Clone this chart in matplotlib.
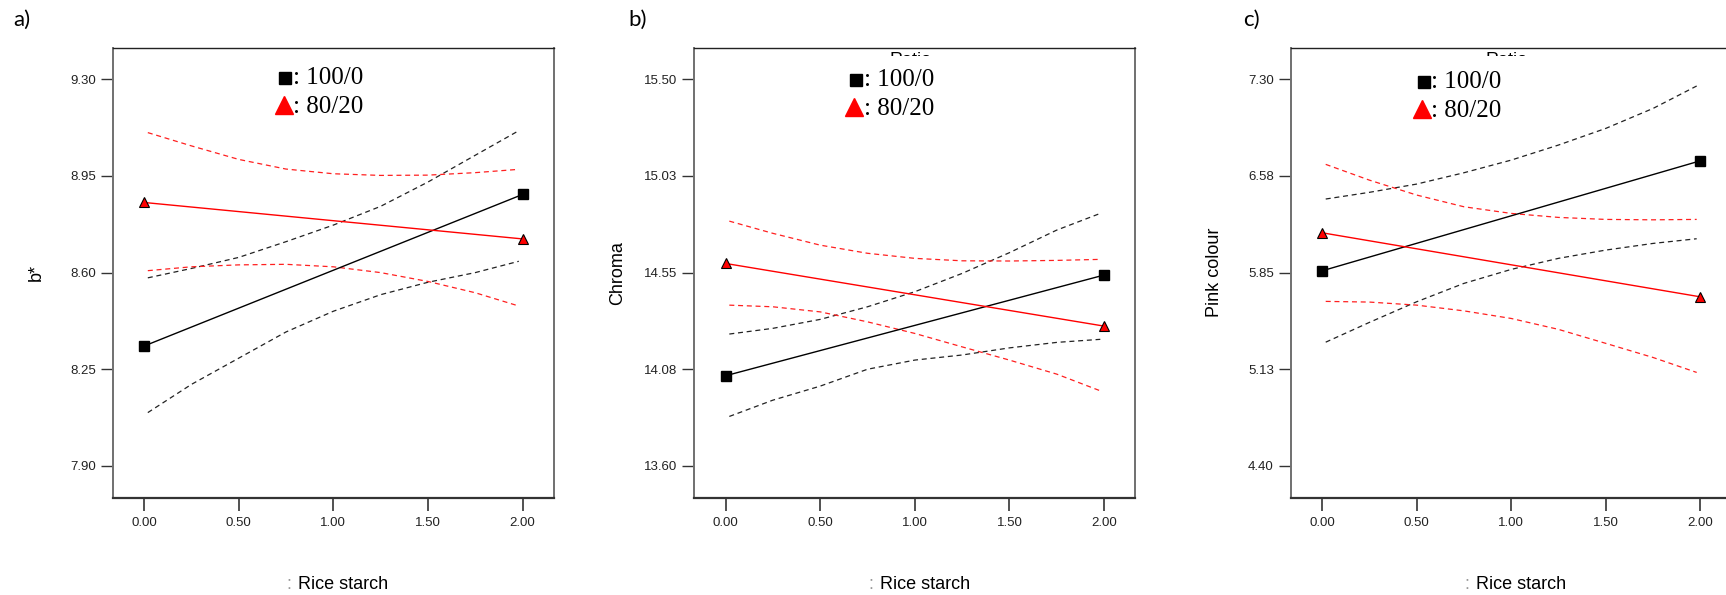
import matplotlib
matplotlib.use("Agg")
import matplotlib.pyplot as plt
from matplotlib.patches import Rectangle

# data
x_means = [0.0, 2.0]
x_band = [0.02, 0.25, 0.5, 0.75, 1.0, 1.25, 1.5, 1.75, 1.98]
ratios = ["100/0", "80/20"]
x_ticks = [0.0, 0.5, 1.0, 1.5, 2.0]
x_ticklabels = ["0.00", "0.50", "1.00", "1.50", "2.00"]
x_title = "Rice starch"

# a) b*
bstar_100 = [8.334, 8.883]
bstar_80 = [8.854, 8.722]
bstar_100_hi = [8.581, 8.615, 8.655, 8.712, 8.772, 8.840, 8.928, 9.025, 9.114]
bstar_100_lo = [8.093, 8.195, 8.290, 8.385, 8.460, 8.520, 8.565, 8.600, 8.641]
bstar_80_hi = [9.107, 9.059, 9.010, 8.975, 8.958, 8.952, 8.953, 8.962, 8.974]
bstar_80_lo = [8.607, 8.621, 8.628, 8.630, 8.621, 8.600, 8.568, 8.527, 8.479]
bstar_ticks = [7.90, 8.25, 8.60, 8.95, 9.30]
bstar_ticklabels = ["7.90", "8.25", "8.60", "8.95", "9.30"]

# b) Chroma
chroma_100 = [14.043, 14.538]
chroma_80 = [14.595, 14.287]
chroma_100_hi = [14.248, 14.276, 14.320, 14.382, 14.456, 14.546, 14.648, 14.759, 14.841]
chroma_100_lo = [13.843, 13.923, 13.992, 14.075, 14.120, 14.145, 14.180, 14.207, 14.222]
chroma_80_hi = [14.803, 14.743, 14.685, 14.645, 14.620, 14.608, 14.607, 14.610, 14.615]
chroma_80_lo = [14.390, 14.382, 14.357, 14.308, 14.251, 14.185, 14.120, 14.051, 13.969]
chroma_ticks = [13.60, 14.075, 14.55, 15.025, 15.50]
chroma_ticklabels = ["13.60", "14.08", "14.55", "15.03", "15.50"]

# c) Pink colour
pink_100 = [5.863, 6.689]
pink_80 = [6.149, 5.668]
pink_100_hi = [6.402, 6.452, 6.514, 6.599, 6.694, 6.807, 6.932, 7.082, 7.250]
pink_100_lo = [5.328, 5.476, 5.631, 5.769, 5.874, 5.957, 6.019, 6.069, 6.104]
pink_80_hi = [6.662, 6.544, 6.432, 6.344, 6.294, 6.264, 6.249, 6.246, 6.249]
pink_80_lo = [5.634, 5.629, 5.606, 5.563, 5.506, 5.424, 5.319, 5.213, 5.101]
pink_ticks = [4.40, 5.125, 5.85, 6.575, 7.30]
pink_ticklabels = ["4.40", "5.13", "5.85", "6.58", "7.30"]

panels = [
    dict(tag="a)", ylabel="b*", m100=bstar_100, m80=bstar_80,
         hi100=bstar_100_hi, lo100=bstar_100_lo, hi80=bstar_80_hi, lo80=bstar_80_lo,
         ticks=bstar_ticks, ticklabels=bstar_ticklabels, ratio_text=False,
         left=112.8, tag_x=13, sq=(0.3905, 0.932), tri=(0.3877, 0.872),
         txt_x=0.4086, base=(0.9187, 0.854)),
    dict(tag="b)", ylabel="Chroma", m100=chroma_100, m80=chroma_80,
         hi100=chroma_100_hi, lo100=chroma_100_lo, hi80=chroma_80_hi, lo80=chroma_80_lo,
         ticks=chroma_ticks, ticklabels=chroma_ticklabels, ratio_text=True,
         left=694.3, tag_x=628, sq=(0.3658, 0.928), tri=(0.3617, 0.8676),
         txt_x=0.385, base=(0.915, 0.850)),
    dict(tag="c)", ylabel="Pink colour", m100=pink_100, m80=pink_80,
         hi100=pink_100_hi, lo100=pink_100_lo, hi80=pink_80_hi, lo80=pink_80_lo,
         ticks=pink_ticks, ticklabels=pink_ticklabels, ratio_text=True,
         left=1290.7, tag_x=1243, sq=(0.3023, 0.923), tri=(0.297, 0.863),
         txt_x=0.318, base=(0.910, 0.845)),
]

W, H = 1726, 595
fig = plt.figure(figsize=(W / 100, H / 100), dpi=100)
sans = ["Liberation Sans", "DejaVu Sans"]
serif = ["Liberation Serif", "DejaVu Serif"]

ax_w, ax_h = 441, 450
ax_bottom = 497.7

for p in panels:
    ax = fig.add_axes([p["left"] / W, (H - ax_bottom) / H, ax_w / W, ax_h / H])

    # confidence bands
    ax.plot(x_band, p["hi100"], color="#222222", lw=0.9, dashes=(4, 3), zorder=4)
    ax.plot(x_band, p["lo100"], color="#222222", lw=0.9, dashes=(4, 3), zorder=4)
    ax.plot(x_band, p["hi80"], color="#ff2020", lw=0.9, dashes=(4, 3), zorder=4)
    ax.plot(x_band, p["lo80"], color="#ff2020", lw=0.9, dashes=(4, 3), zorder=4)

    # means
    ax.plot(x_means, p["m100"], color="black", lw=1.0, marker="s", ms=6.8,
            mfc="black", mec="black", zorder=5)
    ax.plot(x_means, p["m80"], color="#ff0000", lw=1.0, marker="^", ms=7.5,
            mfc="#ff0000", mec="black", mew=0.8, zorder=5)

    t = p["ticks"]
    r = t[-1] - t[0]
    ax.set_ylim(t[0] - 0.0823 * r, t[-1] + 0.0818 * r)
    ax.set_xlim(-0.165, 2.165)
    ax.set_yticks(t)
    ax.set_yticklabels(p["ticklabels"])
    ax.set_xticks(x_ticks)
    ax.set_xticklabels(x_ticklabels)
    ax.tick_params(axis="y", direction="out", length=8.6, width=1.0, pad=3.5,
                   colors="#333333", labelsize=9.5, labelcolor="#222222")
    ax.tick_params(axis="x", direction="out", length=9.4, width=1.2, pad=4.5,
                   colors="#333333", labelsize=9.5, labelcolor="#222222")
    for lab in ax.get_xticklabels() + ax.get_yticklabels():
        lab.set_family(sans)

    ax.spines["left"].set_color("#707070")
    ax.spines["left"].set_linewidth(1.4)
    ax.spines["right"].set_color("#707070")
    ax.spines["right"].set_linewidth(1.4)
    ax.spines["top"].set_color("#222222")
    ax.spines["top"].set_linewidth(1.0)
    ax.spines["bottom"].set_color("#333333")
    ax.spines["bottom"].set_linewidth(1.6)

    # half hidden "Ratio" title behind the legend block
    if p["ratio_text"]:
        ax.text(0.49, 1 - 4.5 / ax_h, "Ratio", transform=ax.transAxes, ha="center",
                va="top", fontsize=13, family=sans, zorder=2)
        ax.add_patch(Rectangle((0.42, 1 - 24 / ax_h), 0.15, 15.5 / ax_h,
                               transform=ax.transAxes, facecolor="white",
                               edgecolor="none", zorder=3))

    # legend block
    ax.plot([p["sq"][0]], [p["sq"][1]], marker="s", ms=8, color="black",
            transform=ax.transAxes, clip_on=False, zorder=6)
    ax.plot([p["tri"][0]], [p["tri"][1]], marker="^", ms=13, color="#ff0000",
            mec="#ff0000", transform=ax.transAxes, clip_on=False, zorder=6)
    ax.text(p["txt_x"], p["base"][0], ": " + ratios[0], transform=ax.transAxes,
            ha="left", va="baseline", fontsize=18, family=serif, zorder=6)
    ax.text(p["txt_x"], p["base"][1], ": " + ratios[1], transform=ax.transAxes,
            ha="left", va="baseline", fontsize=18, family=serif, zorder=6)

    # axis titles
    ax.text(0.523, -0.203, x_title, transform=ax.transAxes, ha="center",
            va="baseline", fontsize=13, family=sans)
    ax.text(0.40, -0.203, ":", transform=ax.transAxes, ha="center",
            va="baseline", fontsize=13, family=sans, color="#999999")
    ax.text(-0.173, 0.5, p["ylabel"], transform=ax.transAxes, ha="center",
            va="center", rotation=90, fontsize=13, family=sans)

    fig.text(p["tag_x"] / W, 1 - 10 / H, p["tag"], ha="left", va="top",
             fontsize=16, family=["Lato", "DejaVu Sans"])

fig.savefig("out.png", dpi=100)
